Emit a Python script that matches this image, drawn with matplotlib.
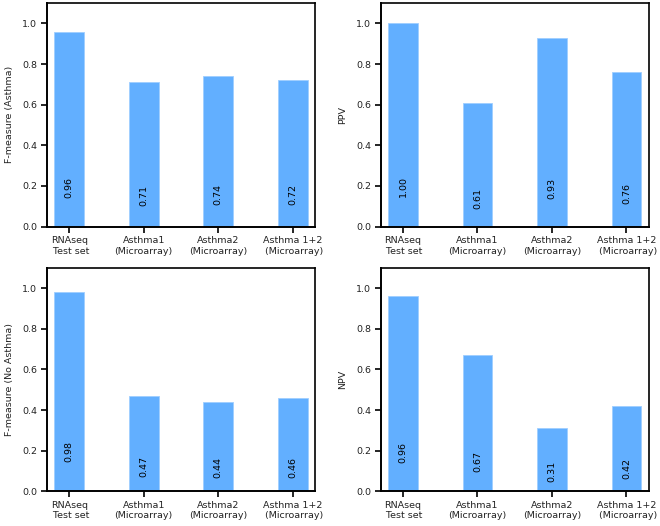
import matplotlib
matplotlib.use("Agg")
import matplotlib.pyplot as plt
import numpy as np

# data
groups = ["RNAseq\n Test set", "Asthma1\n(Microarray)", "Asthma2\n(Microarray)", "Asthma 1+2\n (Microarray)"]
f_asthma = [0.96, 0.71, 0.74, 0.72]
ppv = [1.00, 0.61, 0.93, 0.76]
f_no_asthma = [0.98, 0.47, 0.44, 0.46]
npv = [0.96, 0.67, 0.31, 0.42]

panels = [
    (f_asthma, "F-measure (Asthma)"),
    (ppv, "PPV"),
    (f_no_asthma, "F-measure (No Asthma)"),
    (npv, "NPV"),
]

bar_color = "#62afff"
fs = 6.8

fig, axes = plt.subplots(2, 2, figsize=(6.6, 5.26), dpi=100)
fig.subplots_adjust(left=0.071, right=0.983, top=0.994, bottom=0.066,
                    wspace=0.245, hspace=0.185)

x = np.arange(len(groups))
for ax, (vals, ylabel) in zip(axes.flat, panels):
    ax.bar(x, vals, width=0.4, color=bar_color, edgecolor="#9fceff", linewidth=0.6)
    for xi, v in zip(x, vals):
        # value label written vertically inside each bar
        ax.text(xi, v * 0.145, f"{v:.2f}", rotation=90, ha="center", va="bottom",
                fontsize=fs, color="black")
    ax.set_xlim(-0.3, 3.3)
    ax.set_ylim(0, 1.1)
    ax.set_yticks([0.0, 0.2, 0.4, 0.6, 0.8, 1.0])
    ax.set_xticks(x)
    ax.set_xticklabels(groups, fontsize=fs, color="#222222")
    ax.tick_params(axis="y", labelsize=fs, labelcolor="#222222")
    ax.tick_params(direction="out", length=4, width=1.2, pad=3)
    ax.set_ylabel(ylabel, fontsize=fs, labelpad=6, color="#222222")
    for side in ["left", "bottom"]:
        ax.spines[side].set_linewidth(1.4)
    for side in ["top", "right"]:
        ax.spines[side].set_linewidth(1.2)

fig.savefig("out.png", dpi=100)
